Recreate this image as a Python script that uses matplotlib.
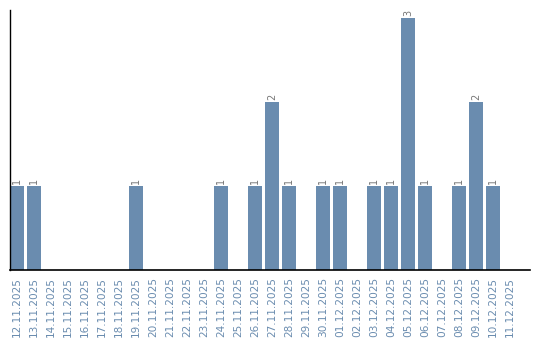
import matplotlib
matplotlib.use("Agg")
import matplotlib.pyplot as plt

dates = ["12.11.2025", "13.11.2025", "14.11.2025", "15.11.2025", "16.11.2025",
         "17.11.2025", "18.11.2025", "19.11.2025", "20.11.2025", "21.11.2025",
         "22.11.2025", "23.11.2025", "24.11.2025", "25.11.2025", "26.11.2025",
         "27.11.2025", "28.11.2025", "29.11.2025", "30.11.2025", "01.12.2025",
         "02.12.2025", "03.12.2025", "04.12.2025", "05.12.2025", "06.12.2025",
         "07.12.2025", "08.12.2025", "09.12.2025", "10.12.2025", "11.12.2025"]
counts = [1, 1, 0, 0, 0, 0, 0, 1, 0, 0,
          0, 0, 1, 0, 1, 2, 1, 0, 1, 1,
          0, 1, 1, 3, 1, 0, 1, 2, 1, 0]

bar_color = "#6a8caf"
label_color = "#6a8caf"

fig = plt.figure(figsize=(5.4, 3.4), dpi=100)
ax = fig.add_axes([10 / 540, 70 / 340, 520 / 540, 260 / 340])

x = list(range(len(dates)))
bw = 0.82
ax.bar(x, counts, width=bw, color=bar_color)
for xi, c in zip(x, counts):
    if c > 0:
        ax.text(xi, c + 0.02, str(c), rotation=90, ha="center", va="bottom",
                fontsize=7, color="#777777")

ax.set_xlim(-bw / 2, 29 + 20 / 17)
ax.set_ylim(0, 260 / 84)
ax.set_xticks(x)
ax.set_xticklabels(dates, rotation=90, fontsize=7.6, color=label_color)
ax.tick_params(axis="x", length=0, pad=5)
ax.set_yticks([])
for s in ["top", "right"]:
    ax.spines[s].set_visible(False)
ax.spines["left"].set_linewidth(1)
ax.spines["bottom"].set_linewidth(1.2)

fig.savefig("out.png", dpi=100)
